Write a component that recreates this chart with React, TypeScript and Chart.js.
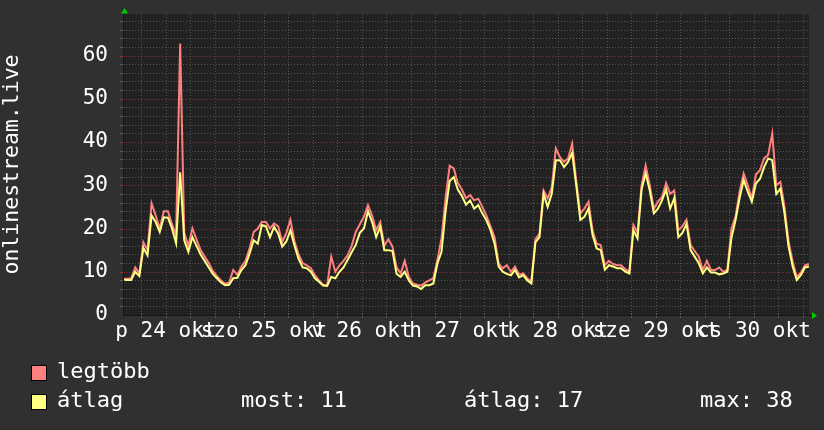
import { useEffect, useRef } from 'react';
import { Chart, registerables } from 'chart.js';

Chart.register(...registerables);

const FONT_FAMILY = '"DejaVu Sans Mono", monospace';

// x values are hours after 24 okt 00:00; one sample per hour
const startHour = 1.5;
const dayLabels = ['p 24 okt', 'szo 25 okt', 'v 26 okt', 'h 27 okt', 'k 28 okt', 'sze 29 okt', 'cs 30 okt'];
const dayLabelHours = [12, 36, 60, 84, 108, 132, 156];
const yTickLabels = [0, 10, 20, 30, 40, 50, 60];
const yAxisTitle = 'onlinestream.live';
const seriesNames = ['legtöbb', 'átlag'];
const statTexts = ['most: 11', 'átlag: 17', 'max: 38'];

const maxValues = [
  8.4, 8.4, 8.5, 11, 9.6, 16.8, 15, 25.8, 23, 20,
  24, 24, 21, 18.5, 62.8, 19, 16, 20, 17.5, 15,
  13.5, 12, 10.2, 9, 8, 7.2, 7.5, 10.4, 9.3, 11.2,
  12.5, 15.4, 19.2, 20, 21.5, 21.5, 20, 21.2, 20.5, 16.9,
  19, 22, 17, 14, 12, 11.5, 10.8, 9.2, 8, 7,
  6.9, 13.5, 10, 11.5, 12.5, 13.8, 16, 19.2, 21, 22.7,
  25.4, 23, 19.6, 21.5, 16, 17.5, 15.8, 11, 9.6, 12.5,
  8.8, 7.3, 7, 6.8, 7.5, 8, 8.5, 12.7, 17.7, 27,
  34.5, 33.9, 30.5, 29, 27, 27.7, 26.5, 26.9, 25, 23,
  20.5, 18, 11.9, 10.8, 11.5, 10, 11.2, 9.3, 9.6, 8.5,
  7.7, 17.5, 18.8, 28.8, 27, 29.5, 38.5, 36.5, 35.4, 36.2,
  39.6, 31, 23.5, 24.6, 26.2, 19.5, 16.5, 16.2, 11.5, 12.5,
  11.8, 11.5, 11.5, 10.6, 10, 20.8, 19, 30, 34.6, 30,
  24.5, 26.2, 27.3, 30.5, 28, 28.8, 19.6, 20.5, 22, 16.2,
  14.8, 13.5, 10.4, 12.5, 10.4, 10.4, 11, 10, 10.4, 20,
  22.7, 28.5, 32.7, 30, 27, 32.5, 33.5, 36.2, 37, 41.9,
  30, 30.8, 25, 17, 12.3, 8.8, 9.8, 11.5, 11.8,
];

const avgValues = [
  8.1, 8.1, 8.1, 10, 9, 15.5, 13.8, 23, 21.5, 19.2,
  22.6, 22.5, 20, 16.6, 33, 17.3, 14.6, 18, 16, 14,
  12.5, 11, 9.5, 8.5, 7.5, 6.9, 7, 8.5, 8.6, 10.4,
  11.5, 14.2, 17.3, 16.5, 20.8, 20.5, 18, 20.4, 18.8, 15.8,
  17, 19.6, 16, 13, 11, 10.8, 10, 8.5, 7.7, 6.8,
  6.7, 8.8, 8.5, 10, 11, 12.7, 14.5, 16.2, 19, 20,
  24, 21.5, 18, 20.4, 15, 15, 14.8, 9.5, 8.8, 10,
  8, 6.8, 6.6, 6, 6.9, 6.9, 7.3, 11.9, 14.6, 24,
  31, 31.9, 29, 27.5, 25.5, 26.5, 24.6, 25.4, 23.5, 21.9,
  19.6, 16.5, 11.2, 10, 9.5, 9.2, 10.4, 8.7, 9.2, 8,
  7.3, 16.8, 18, 28, 25, 28, 35.8, 35.8, 34.2, 35.4,
  37.5, 30, 22, 22.7, 24.6, 18.5, 15.4, 15, 10.5, 11.5,
  11.2, 10.8, 10.8, 10, 9.6, 19.6, 17.7, 29, 32.7, 28.8,
  23.5, 24.6, 26.5, 29, 24.6, 27, 18, 19, 21, 15,
  13.5, 12, 9.6, 11, 9.8, 9.8, 9.4, 9.6, 10, 17.8,
  21.9, 27, 31.2, 28.5, 26.2, 30.4, 31.5, 34.2, 36.2, 35.8,
  28, 29.2, 23.5, 15.8, 11.2, 8.1, 9.2, 11, 11.2,
];

const X_MIN = 1.5;
const X_MAX = 169.5;
const Y_MAX = 69.6;

const RED = '#ff8080';
const YELLOW = '#ffff80';
const OUTER_BG = '#303030';
const PLOT_BG = '#222222';
const MINOR_GRID = 'rgba(120,120,120,0.6)';
const MAJOR_GRID = 'rgba(190,60,60,0.7)';

const rrdPlugin = {
  id: 'rrdLook',
  beforeDraw(chart: any) {
    const { ctx, chartArea: a, width, height } = chart;
    ctx.save();
    ctx.fillStyle = OUTER_BG;
    ctx.fillRect(0, 0, width, height);
    ctx.fillStyle = PLOT_BG;
    ctx.fillRect(a.left, a.top, a.right - a.left, a.bottom - a.top);
    ctx.restore();
  },
  beforeDatasetsDraw(chart: any) {
    const { ctx, chartArea: a, scales } = chart;
    const x = scales.x;
    const y = scales.y;
    ctx.save();
    ctx.lineWidth = 1;
    ctx.setLineDash([1, 2]);
    for (let v = 2; v < Y_MAX; v += 2) {
      const py = Math.round(y.getPixelForValue(v)) + 0.5;
      ctx.strokeStyle = v % 10 === 0 ? MAJOR_GRID : MINOR_GRID;
      ctx.beginPath();
      ctx.moveTo(a.left, py);
      ctx.lineTo(a.right, py);
      ctx.stroke();
    }
    for (let h = 6; h < X_MAX; h += 6) {
      if (h <= X_MIN) continue;
      const px = Math.round(x.getPixelForValue(h)) + 0.5;
      ctx.strokeStyle = h % 24 === 0 ? MAJOR_GRID : MINOR_GRID;
      ctx.beginPath();
      ctx.moveTo(px, a.top);
      ctx.lineTo(px, a.bottom);
      ctx.stroke();
    }
    ctx.restore();
  },
  afterDraw(chart: any) {
    const { ctx, chartArea: a, scales } = chart;
    const x = scales.x;
    const y = scales.y;
    ctx.save();
    ctx.lineWidth = 1;
    for (let h = 6; h < X_MAX; h += 6) {
      const px = Math.round(x.getPixelForValue(h)) + 0.5;
      ctx.strokeStyle = h % 24 === 0 ? MAJOR_GRID : MINOR_GRID;
      ctx.beginPath();
      ctx.moveTo(px, a.bottom - 2);
      ctx.lineTo(px, a.bottom + 3);
      ctx.stroke();
    }
    for (let v = 2; v < Y_MAX; v += 2) {
      const py = Math.round(y.getPixelForValue(v)) + 0.5;
      ctx.strokeStyle = v % 10 === 0 ? MAJOR_GRID : MINOR_GRID;
      ctx.beginPath();
      ctx.moveTo(a.left - 3, py);
      ctx.lineTo(a.left + 2, py);
      ctx.stroke();
    }
    ctx.strokeStyle = '#161616';
    ctx.beginPath();
    ctx.moveTo(a.left + 0.5, a.bottom + 0.5);
    ctx.lineTo(a.left + 0.5, a.top - 1);
    ctx.moveTo(a.left, a.bottom + 0.5);
    ctx.lineTo(a.right + 3, a.bottom + 0.5);
    ctx.stroke();
    ctx.fillStyle = '#00cc00';
    ctx.beginPath();
    ctx.moveTo(a.left + 1.5, a.top - 6);
    ctx.lineTo(a.left - 2, a.top - 0.5);
    ctx.lineTo(a.left + 5, a.top - 0.5);
    ctx.closePath();
    ctx.fill();
    ctx.beginPath();
    ctx.moveTo(a.right + 8, a.bottom + 0.5);
    ctx.lineTo(a.right + 3, a.bottom - 3);
    ctx.lineTo(a.right + 3, a.bottom + 4);
    ctx.closePath();
    ctx.fill();

    ctx.font = '22px ' + FONT_FAMILY;
    ctx.textBaseline = 'alphabetic';
    ctx.textAlign = 'left';
    const rows = [
      { color: RED, name: seriesNames[0], top: 365, base: 378 },
      { color: YELLOW, name: seriesNames[1], top: 394, base: 407 },
    ];
    rows.forEach((r) => {
      ctx.fillStyle = r.color;
      ctx.fillRect(31, r.top, 16, 16);
      ctx.strokeStyle = '#000000';
      ctx.lineWidth = 1;
      ctx.strokeRect(31.5, r.top + 0.5, 15, 15);
      ctx.fillStyle = '#ffffff';
      ctx.fillText(r.name, 57, r.base);
    });
    const statX = [241, 464, 700];
    statTexts.forEach((t, i) => {
      ctx.fillText(t, statX[i], 407);
    });
    ctx.restore();
  },
};

export default function App() {
  const canvasRef = useRef<HTMLCanvasElement | null>(null);

  useEffect(() => {
    document.body.style.margin = '0';
    const canvas = canvasRef.current;
    if (!canvas) return;
    const chart = new Chart(canvas, {
      type: 'line',
      data: {
        datasets: [
          {
            label: seriesNames[1],
            data: avgValues.map((v, i) => ({ x: startHour + i, y: v })),
            borderColor: YELLOW,
            borderWidth: 2,
            pointRadius: 0,
            tension: 0,
            order: 0,
          },
          {
            label: seriesNames[0],
            data: maxValues.map((v, i) => ({ x: startHour + i, y: v })),
            borderColor: RED,
            borderWidth: 2,
            pointRadius: 0,
            tension: 0,
            order: 1,
          },
        ],
      },
      plugins: [rrdPlugin],
      options: {
        animation: false,
        responsive: false,
        devicePixelRatio: 1,
        events: [],
        layout: { padding: { left: 0, right: 15, top: 14, bottom: 0 } },
        plugins: {
          legend: { display: false },
          tooltip: { enabled: false },
        },
        scales: {
          x: {
            type: 'linear',
            min: X_MIN,
            max: X_MAX,
            grid: { display: false, drawTicks: false },
            border: { display: false },
            afterBuildTicks: (scale: any) => {
              scale.ticks = dayLabelHours.map((h) => ({ value: h }));
            },
            afterFit: (scale: any) => {
              scale.height = 115;
              scale.paddingLeft = 0;
              scale.paddingRight = 0;
            },
            ticks: {
              autoSkip: false,
              maxRotation: 0,
              minRotation: 0,
              padding: 4,
              color: '#ffffff',
              font: { family: FONT_FAMILY, size: 21 },
              callback: (value: any) => {
                const idx = dayLabelHours.indexOf(Number(value));
                return idx >= 0 ? dayLabels[idx] : '';
              },
            },
          },
          y: {
            type: 'linear',
            min: 0,
            max: Y_MAX,
            grid: { display: false, drawTicks: false },
            border: { display: false },
            afterBuildTicks: (scale: any) => {
              scale.ticks = yTickLabels.map((v) => ({ value: v }));
            },
            afterFit: (scale: any) => {
              scale.width = 123;
              scale.paddingTop = 0;
              scale.paddingBottom = 0;
            },
            title: {
              display: true,
              text: yAxisTitle,
              color: '#ffffff',
              font: { family: FONT_FAMILY, size: 21.5, lineHeight: 1.15 },
              padding: { top: 0, bottom: 0 },
            },
            ticks: {
              padding: 15,
              color: '#ffffff',
              font: { family: FONT_FAMILY, size: 21 },
              callback: (value: any) => String(value),
            },
          },
        },
      },
    });
    return () => chart.destroy();
  }, []);

  return (
    <div style={{ position: 'absolute', left: 0, top: 0, width: 824, height: 430 }}>
      <canvas ref={canvasRef} width={824} height={430} />
    </div>
  );
}
